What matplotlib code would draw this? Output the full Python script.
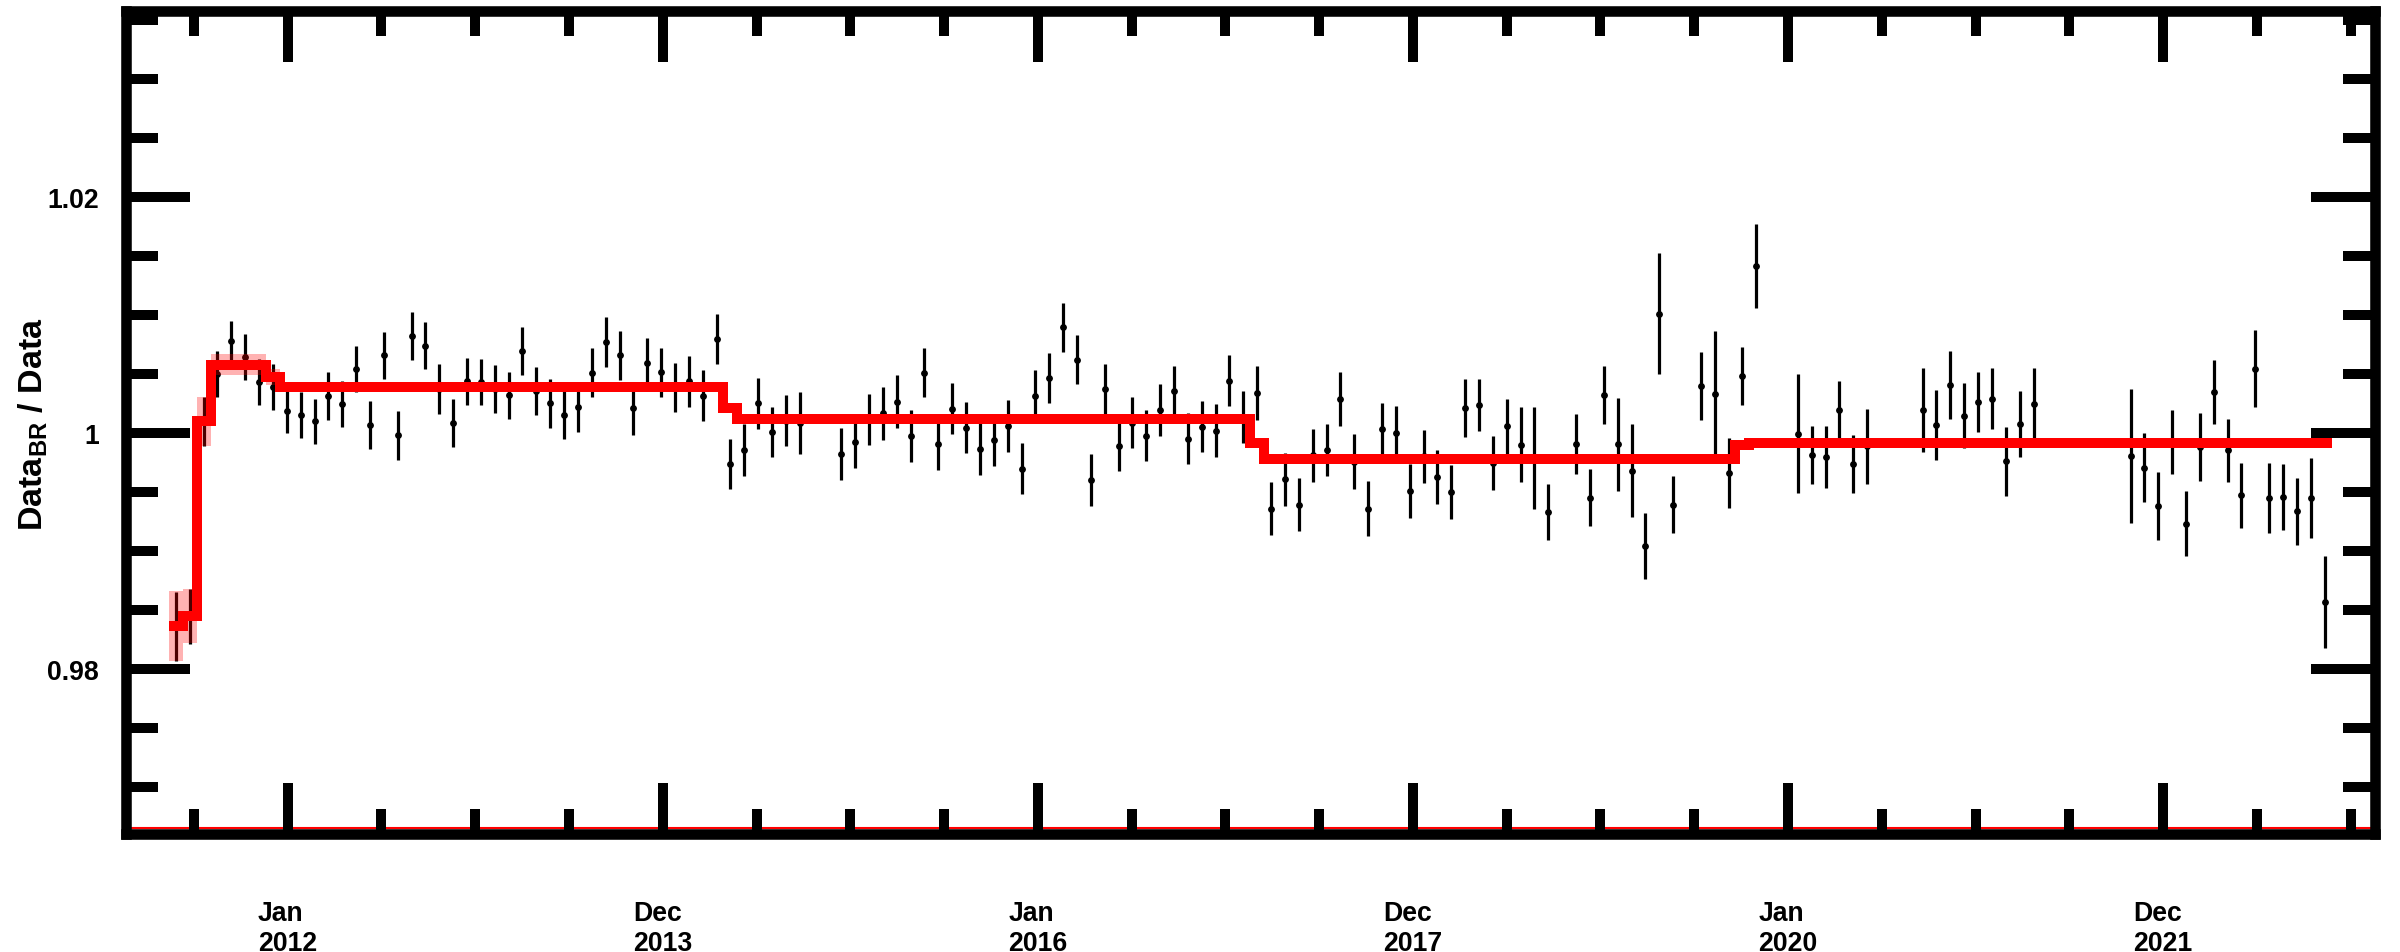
import datetime as dt
import numpy as np
import matplotlib
matplotlib.use("Agg")
import matplotlib.pyplot as plt
import matplotlib.dates as mdates
from matplotlib.ticker import FixedLocator, MultipleLocator, FuncFormatter

plt.rcParams["font.family"] = ["Liberation Sans", "DejaVu Sans"]
plt.rcParams["font.weight"] = "bold"
plt.rcParams["mathtext.fontset"] = "custom"
plt.rcParams["mathtext.rm"] = "Liberation Sans:bold"
plt.rcParams["mathtext.bf"] = "Liberation Sans:bold"

# Bartels rotations with a measurement, the ratio and its uncertainty
rotations = [
    2426, 2427, 2428, 2429, 2430, 2431, 2432, 2433, 2434, 2435,
    2436, 2437, 2438, 2439, 2440, 2441, 2442, 2443, 2444, 2445,
    2446, 2447, 2448, 2449, 2450, 2451, 2452, 2453, 2454, 2455,
    2456, 2457, 2458, 2459, 2460, 2461, 2462, 2463, 2464, 2465,
    2466, 2467, 2468, 2469, 2470, 2471, 2474, 2475, 2476, 2477,
    2478, 2479, 2480, 2481, 2482, 2483, 2484, 2485, 2486, 2487,
    2488, 2489, 2490, 2491, 2492, 2493, 2494, 2495, 2496, 2497,
    2498, 2499, 2500, 2501, 2502, 2503, 2504, 2505, 2506, 2507,
    2508, 2509, 2510, 2511, 2512, 2513, 2514, 2515, 2516, 2517,
    2518, 2519, 2520, 2521, 2522, 2523, 2524, 2525, 2527, 2528,
    2529, 2530, 2531, 2532, 2533, 2534, 2536, 2537, 2538, 2539,
    2540, 2543, 2544, 2545, 2546, 2547, 2548, 2552, 2553, 2554,
    2555, 2556, 2557, 2558, 2559, 2560, 2567, 2568, 2569, 2570,
    2571, 2572, 2573, 2574, 2575, 2576, 2577, 2578, 2579, 2580,
    2581,
]
ratio = [
    0.98357, 0.98444, 1.00096, 1.00503, 1.00777, 1.00645, 1.00433, 1.00390, 1.00187, 1.00153,
    1.00098, 1.00314, 1.00246, 1.00540, 1.00068, 1.00658, 0.99980, 1.00823, 1.00741, 1.00376,
    1.00085, 1.00438, 1.00433, 1.00373, 1.00319, 1.00696, 1.00353, 1.00251, 1.00155, 1.00220,
    1.00509, 1.00772, 1.00659, 1.00209, 1.00597, 1.00514, 1.00387, 1.00438, 1.00314, 1.00798,
    0.99737, 0.99858, 1.00251, 1.00008, 1.00104, 1.00087, 0.99824, 0.99926, 1.00115, 1.00166,
    1.00266, 0.99975, 1.00512, 0.99907, 1.00206, 1.00045, 0.99867, 0.99943, 1.00059, 0.99697,
    1.00316, 1.00467, 1.00896, 1.00622, 0.99601, 1.00376, 0.99892, 1.00087, 0.99977, 1.00192,
    1.00356, 0.99952, 1.00053, 1.00020, 1.00444, 1.00136, 1.00339, 0.99358, 0.99607, 0.99392,
    0.99810, 0.99856, 1.00285, 0.99754, 0.99358, 1.00031, 1.00003, 0.99508, 0.99801, 0.99627,
    0.99499, 1.00215, 1.00238, 0.99745, 1.00056, 0.99901, 0.99790, 0.99330, 0.99907, 0.99451,
    1.00322, 0.99903, 0.99680, 0.99041, 1.01010, 0.99392, 1.00401, 1.00331, 0.99661, 1.00484,
    1.01417, 0.99992, 0.99813, 0.99796, 1.00198, 0.99737, 0.99886, 1.00195, 1.00068, 1.00407,
    1.00146, 1.00262, 1.00290, 0.99759, 1.00076, 1.00246, 0.99805, 0.99706, 0.99381, 0.99924,
    0.99228, 0.99881, 1.00345, 0.99852, 0.99471, 1.00546, 0.99445, 0.99457, 0.99335, 0.99448,
    0.98566,
]
ratio_err = [
    0.00294, 0.00231, 0.00209, 0.00194, 0.00174, 0.00192, 0.00195, 0.00192, 0.00190, 0.00192,
    0.00194, 0.00200, 0.00192, 0.00194, 0.00204, 0.00200, 0.00209, 0.00205, 0.00200, 0.00212,
    0.00206, 0.00200, 0.00198, 0.00200, 0.00198, 0.00202, 0.00204, 0.00211, 0.00206, 0.00209,
    0.00208, 0.00212, 0.00209, 0.00223, 0.00205, 0.00209, 0.00209, 0.00215, 0.00216, 0.00212,
    0.00215, 0.00219, 0.00219, 0.00215, 0.00215, 0.00262, 0.00220, 0.00222, 0.00219, 0.00223,
    0.00222, 0.00220, 0.00211, 0.00222, 0.00216, 0.00219, 0.00220, 0.00222, 0.00219, 0.00218,
    0.00219, 0.00215, 0.00209, 0.00209, 0.00219, 0.00212, 0.00216, 0.00216, 0.00215, 0.00220,
    0.00212, 0.00219, 0.00218, 0.00222, 0.00215, 0.00219, 0.00230, 0.00223, 0.00226, 0.00223,
    0.00226, 0.00223, 0.00228, 0.00233, 0.00232, 0.00223, 0.00226, 0.00226, 0.00226, 0.00226,
    0.00233, 0.00246, 0.00222, 0.00233, 0.00233, 0.00317, 0.00431, 0.00236, 0.00253, 0.00240,
    0.00249, 0.00395, 0.00392, 0.00283, 0.00513, 0.00245, 0.00287, 0.00533, 0.00297, 0.00246,
    0.00358, 0.00505, 0.00245, 0.00262, 0.00247, 0.00247, 0.00321, 0.00354, 0.00294, 0.00291,
    0.00276, 0.00257, 0.00257, 0.00294, 0.00283, 0.00301, 0.00566, 0.00293, 0.00286, 0.00269,
    0.00276, 0.00288, 0.00272, 0.00269, 0.00276, 0.00325, 0.00298, 0.00283, 0.00283, 0.00337,
    0.00393,
]

# Piecewise-constant fit: rotation range, level and its uncertainty
fit_first = [2426, 2427, 2428, 2429, 2433, 2434, 2466, 2467, 2504, 2505, 2539, 2540]
fit_last = [2426, 2427, 2428, 2432, 2433, 2465, 2466, 2503, 2504, 2538, 2539, 2581]
fit_level = [0.98360, 0.98444, 1.00098, 1.00580, 1.00475, 1.00390,
             1.00215, 1.00121, 0.99918, 0.99782, 0.99895, 0.99917]
fit_err = [0.00295, 0.00230, 0.00210, 0.00092, 0.00065, 0.00030,
           0.00030, 0.00030, 0.00030, 0.00030, 0.00030, 0.00030]

# Time axis labels
x_tick_dates = [dt.datetime(2012, 1, 1, 6), dt.datetime(2013, 12, 31, 18),
                dt.datetime(2016, 1, 1, 6), dt.datetime(2017, 12, 31, 18),
                dt.datetime(2020, 1, 1, 6), dt.datetime(2021, 12, 31, 18)]
x_tick_labels = ["Jan\n2012", "Dec\n2013", "Jan\n2016", "Dec\n2017", "Jan\n2020", "Dec\n2021"]
y_major_ticks = [0.98, 1.00, 1.02]

# Bartels rotation calendar
BR_REF = 2426
BR_REF_START = dt.datetime(2011, 5, 15)
BR_DAYS = 27.0


def br_start(br):
    return mdates.date2num(BR_REF_START) + (np.asarray(br, dtype=float) - BR_REF) * BR_DAYS


x_pts = br_start(rotations) + BR_DAYS / 2

# per-rotation fit values for the step histogram
all_br = np.arange(fit_first[0], fit_last[-1] + 1)
lvl = np.empty(all_br.size)
err = np.empty(all_br.size)
for a, b, v, e in zip(fit_first, fit_last, fit_level, fit_err):
    m = (all_br >= a) & (all_br <= b)
    lvl[m] = v
    err[m] = e
edges = br_start(np.append(all_br, all_br[-1] + 1))

fig = plt.figure(figsize=(24, 9.53), dpi=100)
ax = fig.add_axes([125.7 / 2400, 1 - 834.7 / 953, (2374.7 - 125.7) / 2400, (834.7 - 12.0) / 953])

ax.errorbar(x_pts, ratio, yerr=ratio_err, fmt="o", ms=3.9, color="black",
            ecolor="black", elinewidth=2.3, capsize=0, zorder=2)
ax.stairs(lvl + err, edges, baseline=lvl - err, fill=True,
          color=(1, 0, 0, 0.3), linewidth=0, zorder=3)
st = ax.stairs(lvl, edges, baseline=None, color="red", linewidth=7.2, zorder=4)
st.set_joinstyle("miter")
st.set_capstyle("butt")

# thin red baseline along the lower frame
ax.plot([0, 1], [0.0072, 0.0072], transform=ax.transAxes, color="red", lw=1.5,
        zorder=1, solid_capstyle="butt")

t0 = mdates.date2num(x_tick_dates[0])
major_step = (mdates.date2num(x_tick_dates[2]) - t0) / 2.0
ax.set_xlim(t0 - 315.5, t0 + 4064.7)
ax.set_ylim(0.9660, 1.0358)

ax.xaxis.set_major_locator(FixedLocator(mdates.date2num(x_tick_dates)))
ax.xaxis.set_minor_locator(MultipleLocator(major_step / 4, offset=t0))
ax.set_xticklabels(x_tick_labels)
ax.yaxis.set_major_locator(FixedLocator(y_major_ticks))
ax.yaxis.set_minor_locator(MultipleLocator(0.005))
ax.yaxis.set_major_formatter(FuncFormatter(lambda v, p: f"{v:g}"))

ax.tick_params(which="both", direction="in", top=True, right=True, width=7.2, color="black")
ax.tick_params(axis="x", which="major", length=36.9, pad=48, labelsize=19.2)
ax.tick_params(axis="x", which="minor", length=18.2)
ax.tick_params(axis="y", which="major", length=46.3, pad=19.2, labelsize=19.2)
ax.tick_params(axis="y", which="minor", length=23.0)

for lab in ax.get_xticklabels():
    lab.set_multialignment("left")
    lab.set_linespacing(1.2)
    lab.set_fontweight("bold")
for lab in ax.get_yticklabels():
    lab.set_fontweight("bold")

for sp in ax.spines.values():
    sp.set_linewidth(7.6)
    sp.set_color("black")
    sp.set_zorder(6)

fig.text(33 / 2400, 1 - 424 / 953, r"Data$_{\rm BR}$ / Data", rotation=90,
         ha="center", va="center", fontsize=24.5, fontweight="bold")

fig.savefig("out.png", dpi=100, facecolor="white")
